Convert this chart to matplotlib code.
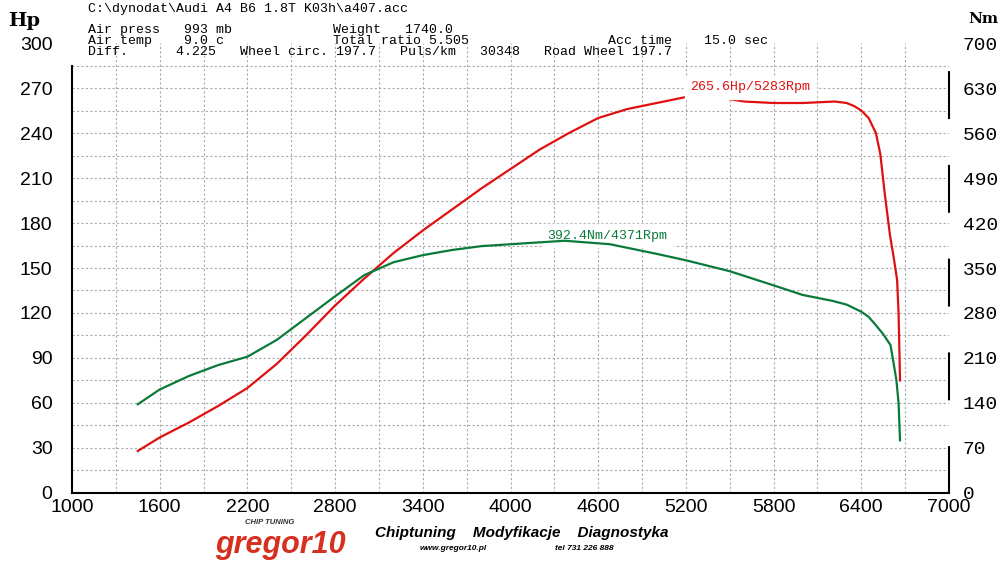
import matplotlib
matplotlib.use("Agg")
import matplotlib.pyplot as plt
import numpy as np

rpm_hp = [1450,1600,1800,2000,2200,2400,2600,2800,3000,3200,3400,3600,3800,4000,4200,4400,4600,4800,5000,5200,5283,5400,5600,5800,6000,6220,6300,6350,6400,6450,6500,6530,6560,6596,6620,6645,6655,6665]
hp     = [28,37,47,58,70,86,105,125,143,160,175,189,203,216,229,240,250,256,260,264,265.6,264,261,260,260,261,260,258,255,250,240,226,200,172,158,142,120,75]
rpm_nm = [1450,1600,1800,2000,2200,2400,2600,2800,3000,3200,3400,3600,3800,4000,4371,4680,5000,5200,5500,5800,6000,6200,6300,6400,6450,6500,6550,6600,6640,6655,6665]
nm     = [138,161,182,199,212,238,272,306,339,359,370,378,384,387,392.4,387,372,362,345,323,308,299,293,282,274,261,247,230,176,140,82]

hp_ticks = list(range(0,301,30))
nm_ticks = list(range(0,701,70))
rpm_ticks = list(range(1000,7001,600))

fig = plt.figure(figsize=(10,5.66), dpi=100)
ax = fig.add_axes([0.072,0.129,0.877,0.795])
ax.set_xlim(1000,7000); ax.set_ylim(0,300)
for y in np.arange(15,300,15):
    ax.axhline(y,color='#aaaaaa',lw=0.8,ls=(0,(2,2)),zorder=0)
for x in np.arange(1300,7000,300):
    ax.axvline(x,color='#aaaaaa',lw=0.8,ls=(0,(2,2)),zorder=0)
for s in ['top','right']: ax.spines[s].set_visible(False)
ax.spines['left'].set_bounds(0,285)
ax.spines['left'].set_linewidth(1.5); ax.spines['bottom'].set_linewidth(1.5)
ax.set_yticks(hp_ticks); ax.set_xticks(rpm_ticks)
ax.tick_params(length=0, labelsize=14, pad=14)
for t in ax.get_yticklabels()+ax.get_xticklabels(): t.set_fontfamily('Liberation Sans')
ax.tick_params(axis='x', pad=4)
ax.plot(rpm_hp, hp, color='#e01010', lw=1.6)
ax2 = ax.twinx()
ax2.set_ylim(0,700)
ax2.plot(rpm_nm, nm, color='#0a7a3a', lw=1.6)
for s in ['top','left','bottom']: ax2.spines[s].set_visible(False)
ax2.spines['right'].set_bounds(0,665)
ax2.spines['right'].set_linestyle((0,(22,23))); ax2.spines['right'].set_linewidth(1.5)
ax2.set_yticks(nm_ticks)
ax2.tick_params(length=0, labelsize=14, pad=10)
for t in ax2.get_yticklabels(): t.set_fontfamily('Liberation Mono')

ax.text(5230, 266.5, '265.6Hp/5283Rpm', color='#e01010', fontsize=9.5, family='Liberation Mono', ha='left', va='bottom', backgroundcolor='white')
ax.text(4250, 167.5, '392.4Nm/4371Rpm', color='#0a7a3a', fontsize=9.5, family='Liberation Mono', ha='left', va='bottom', backgroundcolor='white')

mono = dict(family='Liberation Mono', fontsize=9.5, va='top')
fig.text(0.088, 1-3/566, r'C:\dynodat\Audi A4 B6 1.8T K03h\a407.acc', **mono)
fig.text(0.088, 1-24/566, 'Air press   993 mb', **mono)
fig.text(0.333, 1-24/566, 'Weight   1740.0', **mono)
fig.text(0.088, 1-35/566, 'Air temp    9.0 c', **mono)
fig.text(0.333, 1-35/566, 'Total ratio 5.505', **mono)
fig.text(0.608, 1-35/566, 'Acc time    15.0 sec', **mono)
fig.text(0.088, 1-46/566, 'Diff.      4.225   Wheel circ. 197.7   Puls/km   30348   Road Wheel 197.7', **mono)
fig.text(0.008, 1-12/566, 'Hp', family='DejaVu Serif', fontsize=14, va='top', weight='bold')
fig.text(0.968, 1-12/566, 'Nm', family='DejaVu Serif', fontsize=11, va='top', weight='bold')

fig.text(0.375, 1-533/566, 'Chiptuning    Modyfikacje    Diagnostyka', family='Liberation Sans', style='italic', weight='bold', fontsize=11, va='center')
fig.text(0.42, 1-548/566, 'www.gregor10.pl', family='Liberation Sans', style='italic', weight='bold', fontsize=6, va='center')
fig.text(0.555, 1-548/566, 'tel 731 226 888', family='Liberation Sans', style='italic', weight='bold', fontsize=6, va='center')
fig.text(0.215, 1-545/566, 'gregor10', family='Liberation Sans', style='italic', weight='bold', fontsize=22, color='#d83020', va='center')
fig.text(0.245, 1-522/566, 'CHIP TUNING', family='Liberation Sans', style='italic', weight='bold', fontsize=5.5, color='#333333', va='center')
fig.savefig('out.png', dpi=100)
